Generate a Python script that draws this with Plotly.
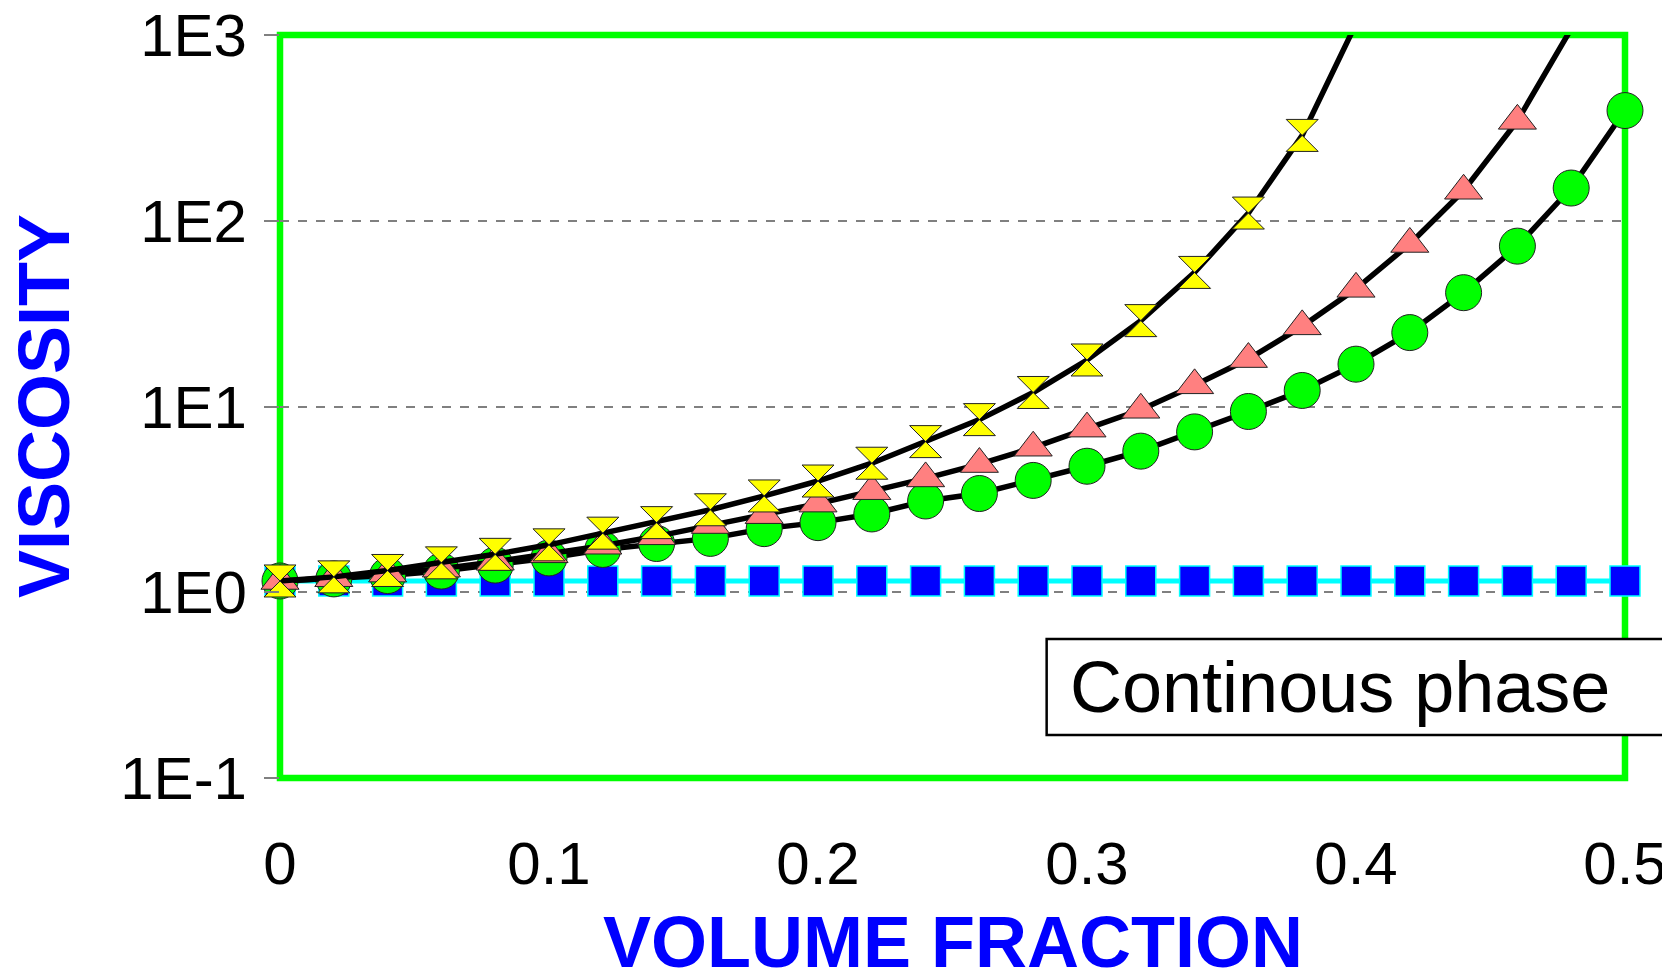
import plotly.graph_objects as go

# volume fraction points
phi = [0.00, 0.02, 0.04, 0.06, 0.08, 0.10, 0.12, 0.14, 0.16, 0.18, 0.20, 0.22, 0.24,
       0.26, 0.28, 0.30, 0.32, 0.34, 0.36, 0.38, 0.40, 0.42, 0.44, 0.46, 0.48, 0.50]

# viscosity readings
continuous = [1.15] * 26
circles = [1.15, 1.18, 1.23, 1.30, 1.40, 1.53, 1.70, 1.83, 1.95, 2.2, 2.37, 2.64, 3.1,
           3.4, 4.0, 4.77, 5.75, 7.3, 9.4, 12.2, 16.9, 25, 41, 73, 150, 392]
triangles = [1.15, 1.19, 1.26, 1.34, 1.46, 1.60, 1.78, 2.0, 2.3, 2.6, 3.0, 3.5, 4.1,
             4.9, 6.0, 7.6, 9.6, 13, 18, 27, 43, 75, 145, 345, 1080]
hourglass = [1.15, 1.21, 1.31, 1.44, 1.60, 1.80, 2.08, 2.37, 2.78, 3.3, 3.97, 4.95, 6.47,
             8.5, 11.9, 17.8, 29, 52.7, 110, 288, 1150]

ytick_vals = [0.1, 1, 10, 100, 1000]
ytick_text = ["1E-1", "1E0", "1E1", "1E2", "1E3"]
xtick_vals = [0, 0.1, 0.2, 0.3, 0.4, 0.5]
xtick_text = ["0", "0.1", "0.2", "0.3", "0.4", "0.5"]

FONT = "Liberation Sans, Arial, sans-serif"

fig = go.Figure()

# continuous phase: cyan line + blue squares
fig.add_trace(go.Scatter(x=phi, y=continuous, mode="lines+markers",
                         line=dict(color="#00FFFF", width=5),
                         marker=dict(symbol="square", size=30, color="#0000FF", opacity=1,
                                     line=dict(color="#00FFFF", width=1.5)),
                         cliponaxis=False))

# green circles
fig.add_trace(go.Scatter(x=phi, y=circles, mode="lines+markers",
                         line=dict(color="black", width=5.5),
                         marker=dict(symbol="circle", size=36, color="#00FF00", opacity=1,
                                     line=dict(color="#222222", width=1)),
                         cliponaxis=False))

# salmon triangles (last point off-scale, marker hidden)
tri_sizes = [33] * (len(triangles) - 1) + [0]
fig.add_trace(go.Scatter(x=phi[:len(triangles)], y=triangles, mode="lines+markers",
                         line=dict(color="black", width=5.5),
                         marker=dict(symbol="triangle-up", size=tri_sizes, color="#FF8080",
                                     opacity=1, line=dict(color="#222222", width=1)),
                         cliponaxis=False))

# yellow hourglasses (last point off-scale, marker hidden)
hg_sizes = [32] * (len(hourglass) - 1) + [0]
fig.add_trace(go.Scatter(x=phi[:len(hourglass)], y=hourglass, mode="lines+markers",
                         line=dict(color="black", width=5.5),
                         marker=dict(symbol="hourglass", size=hg_sizes, color="#FFFF00",
                                     opacity=1, line=dict(color="#222222", width=1)),
                         cliponaxis=False))

# green frame under the gridlines
fig.add_shape(type="rect", xref="paper", yref="paper", x0=0, x1=1, y0=0, y1=1,
              line=dict(color="#00FF00", width=6.5), layer="below")

# label box
fig.add_shape(type="rect", xref="paper", yref="paper", x0=0.570, x1=1.029, y0=0.058, y1=0.187,
              line=dict(color="black", width=2.5), fillcolor="white", layer="above")
fig.add_annotation(text="Continous phase", xref="paper", yref="paper", x=0.586, y=0.1225,
                   xanchor="left", yanchor="middle", showarrow=False,
                   font=dict(family=FONT, size=72, color="black"))

# axis titles
fig.add_annotation(text="<b>VOLUME FRACTION</b>", xref="paper", yref="paper", x=0.5, y=-0.221,
                   xanchor="center", yanchor="middle", showarrow=False,
                   font=dict(family=FONT, size=72, color="#0000FF"))
fig.add_annotation(text="<b>VISCOSITY</b>", xref="paper", yref="paper", x=-0.1758, y=0.5,
                   xanchor="center", yanchor="middle", textangle=-90, showarrow=False,
                   font=dict(family=FONT, size=72, color="#0000FF"))

# page body adds 8px offset, so the figure is a bit smaller than the window
fig.update_layout(
    width=1662, height=967,
    margin=dict(l=272, r=45, t=27, b=197, autoexpand=False),
    paper_bgcolor="white", plot_bgcolor="white",
    showlegend=False,
    font=dict(family=FONT, color="black"),
)
fig.update_xaxes(range=[0, 0.5], tickvals=xtick_vals, ticktext=xtick_text,
                 showgrid=False, zeroline=False, showline=False, ticks="",
                 tickfont=dict(size=60), ticklabelstandoff=45, automargin=False,
                 ticklabeloverflow="allow")
fig.update_yaxes(type="log", range=[-1, 3], tickvals=ytick_vals, ticktext=ytick_text,
                 showgrid=True, gridcolor="#808080", griddash="dash", gridwidth=1.5,
                 zeroline=False, showline=False, ticks="outside", ticklen=15,
                 tickcolor="#808080", tickwidth=1.5,
                 tickfont=dict(size=60), ticklabelstandoff=5, automargin=False,
                 ticklabeloverflow="allow")

fig.write_html("out.html")
